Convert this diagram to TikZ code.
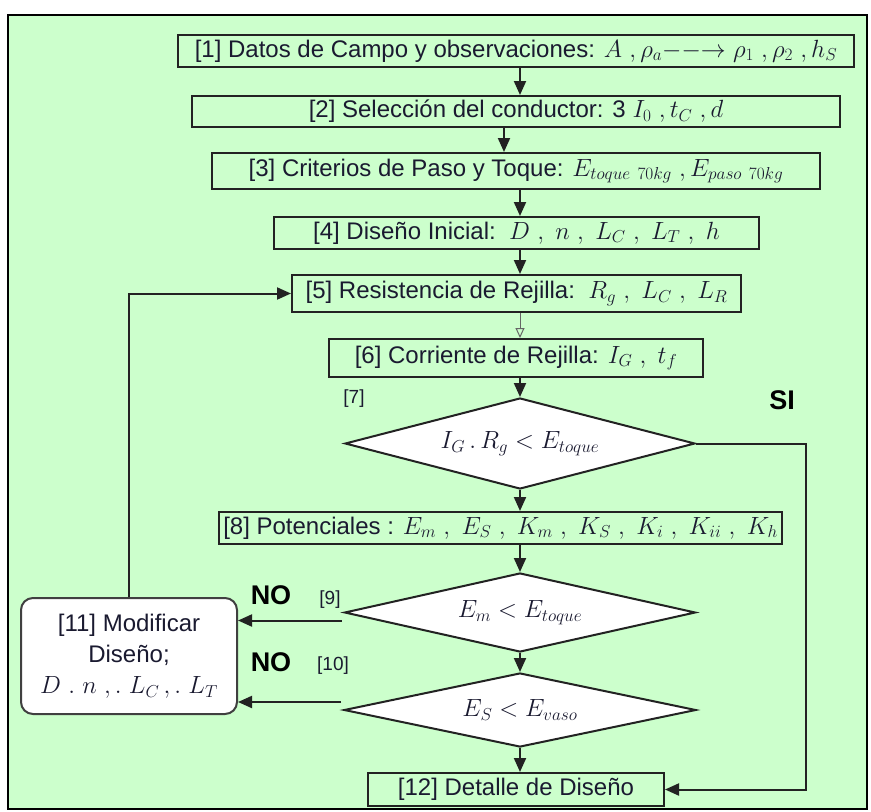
\documentclass[tikz,border=0pt]{standalone}
\usepackage{fontspec}
\setmainfont{Liberation Sans}
\usetikzlibrary{shapes.geometric,arrows.meta,calc}
\definecolor{bg}{HTML}{CCFFCC}
\definecolor{txt}{HTML}{1A1A30}
\definecolor{ln}{HTML}{222222}
\newcommand\mm[1]{{\fontsize{26}{26}\selectfont$#1$}}
\begin{document}
\begin{tikzpicture}[x=1pt,y=-1pt,
  every node/.style={font=\fontsize{24}{28}\selectfont, text=txt},
  box/.style={draw=ln, line width=2pt, rectangle, inner sep=0pt},
  dia/.style={draw=ln, line width=2pt, diamond, fill=white, inner sep=0pt, aspect=3.8},
  arr/.style={draw=ln, line width=2pt, -{Triangle[length=14pt,width=12pt]}},
  oddarr/.style={draw=black!60, line width=1pt, -{Triangle[open,length=10pt,width=9pt]}},
  lbl/.style={font=\fontsize{19}{21}\selectfont},
  yn/.style={font=\fontsize{27}{30}\selectfont\bfseries, text=black}
]
\useasboundingbox (0,0) rectangle (871,812);
\draw[line width=2.2pt, fill=bg] (8,15) rectangle (867,809);

\node[box, minimum width=676pt, minimum height=32pt] (b1) at (516,51)
  {[1] Datos de Campo y observaciones: \mm{A\ ,\rho_a{-}{-}{\rightarrow}\ \rho_1\ ,\rho_2\ ,h_S}};
\node[box, minimum width=648pt, minimum height=31pt] (b2) at (516,111.5)
  {[2] Selección del conductor: 3 \mm{I_0\ ,t_C\ ,d}};
\node[box, minimum width=608pt, minimum height=36pt] (b3) at (516,171)
  {[3] Criterios de Paso y Toque: \mm{E_{toque\ 70kg}\ ,E_{paso\ 70kg}}};
\node[box, minimum width=485pt, minimum height=32pt] (b4) at (516.5,233)
  {[4] Diseño Inicial:\ \ \mm{D\ ,\ n\ ,\ L_C\ ,\ L_T\ ,\ h}};
\node[box, minimum width=449pt, minimum height=37pt] (b5) at (516.5,293.5)
  {[5] Resistencia de Rejilla:\ \ \mm{R_g\ ,\ L_C\ ,\ L_R}};
\node[box, minimum width=374pt, minimum height=38pt] (b6) at (516,358)
  {[6] Corriente de Rejilla: \mm{I_G\ ,\ t_f}};
\node[dia, minimum width=350pt, minimum height=91pt] (d7) at (520,443.5)
  {\mm{I_G\,.\,R_g < E_{toque}}};
\node[box, minimum width=563pt, minimum height=32pt] (b8) at (500.5,528)
  {[8] Potenciales : \mm{E_m\ ,\ E_S\ ,\ K_m\ ,\ K_S\ ,\ K_i\ ,\ K_{ii}\ ,\ K_h}};
\node[dia, minimum width=351pt, minimum height=79pt] (d9) at (520,612.5)
  {\mm{E_m < E_{toque}}};
\node[dia, minimum width=352pt, minimum height=74pt] (d10) at (520,710)
  {\mm{E_S < E_{vaso}}};
\node[box, minimum width=296pt, minimum height=33pt] (b12) at (516,789.5)
  {[12] Detalle de Diseño};
\node[draw=black!75, line width=2pt, fill=white, rounded corners=12pt,
      minimum width=216pt, minimum height=116pt, align=center, inner sep=0pt,
      font=\fontsize{24}{31}\selectfont] (b11) at (129,656)
  {[11] Modificar\\Diseño;\\\mm{D\ .\ n\ ,.\ L_C\,,.\ L_T}};

\node[lbl] (l7) at (354,399) {[7]};
\node[yn] (si) at (782,400) {SI};
\node[yn] (no9) at (271,595) {NO};
\node[lbl] (l9) at (330,600) {[9]};
\node[yn] (no10) at (271,662) {NO};
\node[lbl] (l10) at (333,666) {[10]};

\coordinate (x23) at (504,0);
\coordinate (xsi) at (806,0);
\draw[arr] (b1.south -| d7.north) -- (b2.north -| d7.north);
\draw[arr] (b2.south -| x23) -- (b3.north -| x23);
\draw[arr] (b3.south -| d7.north) -- (b4.north -| d7.north);
\draw[arr] (b4.south -| d7.north) -- (b5.north -| d7.north);
\draw[oddarr] (b5.south -| d7.north) -- (b6.north -| d7.north);
\draw[arr] (b6.south -| d7.north) -- (d7.north);
\draw[arr] (d7.south) -- (b8.north -| d7.south);
\draw[arr] (b8.south -| d9.north) -- (d9.north);
\draw[arr] (d9.south) -- (d10.north);
\draw[arr] (d10.south) -- (b12.north -| d10.south);
\draw[arr] (d7.east) -- (d7.east -| xsi) -- (b12.east -| xsi) -- (b12.east);
\draw[arr] (b11.north) -- (b11.north |- b5.west) -- (b5.west);
\coordinate (n9) at ($(d9.west)+(-2,8)$);
\draw[arr] (n9) -- (n9 -| b11.east);
\coordinate (n10) at ($(d10.west)+(-2,-8)$);
\draw[arr] (n10) -- (n10 -| b11.east);
\end{tikzpicture}
\end{document}
